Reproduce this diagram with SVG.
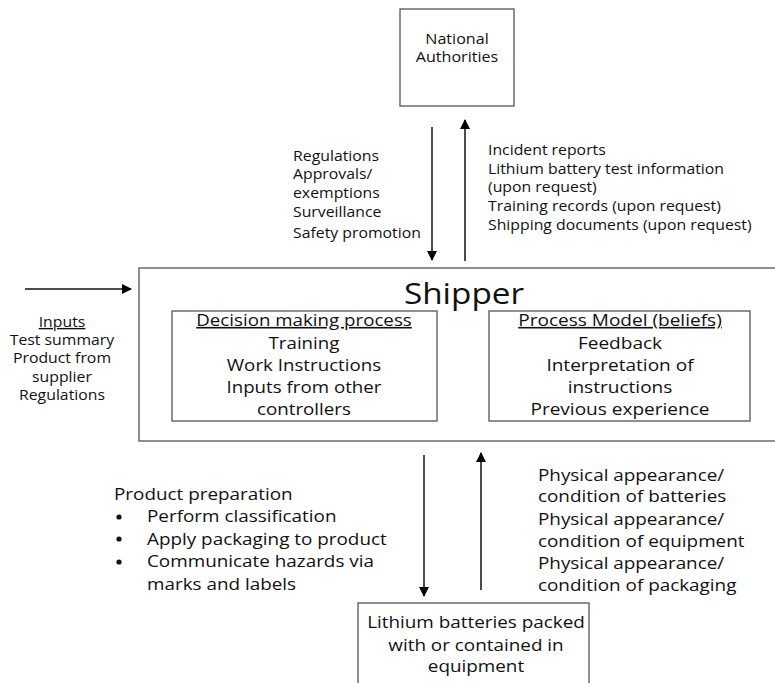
<svg xmlns="http://www.w3.org/2000/svg" width="775" height="683" viewBox="0 0 775 683">
  <defs>
    <marker id="arrow" viewBox="0 0 10 10" refX="9" refY="5" markerWidth="10" markerHeight="10" markerUnits="userSpaceOnUse" orient="auto">
      <path d="M0,0 L10,5 L0,10 Z" fill="#000"/>
    </marker>
    <style>
      text { font-family: "Open Sans", "Liberation Sans", sans-serif; fill: #111; }
      .box { fill: #fff; stroke: #555; stroke-width: 1.3; }
      .flow { stroke: #111; stroke-width: 1.5; fill: none; marker-end: url(#arrow); }
      .s14 { font-size: 14px; }
      .s16 { font-size: 16px; }
      .mid { text-anchor: middle; }
      .u { text-decoration: underline; }
    </style>
  </defs>
  <rect width="775" height="683" fill="#fff"/>

  <!-- Text blocks are widened horizontally about their anchor x to get the wide humanist look -->

  <!-- National Authorities -->
  <g id="national-authorities">
    <rect class="box" x="400" y="9" width="114" height="97"/>
    <g transform="translate(457 0) scale(1.15 1) translate(-457 0)">
      <text class="s14 mid" x="457" y="44">National</text>
      <text class="s14 mid" x="457" y="62">Authorities</text>
    </g>
  </g>

  <!-- Shipper (controller) -->
  <g id="shipper">
    <rect class="box" x="139" y="268" width="640" height="173"/>
    <text class="mid" x="464" y="304" font-size="30" transform="translate(464 0) scale(1.11 1) translate(-464 0)">Shipper</text>
  </g>

  <g id="decision-making">
    <rect class="box" x="172" y="311" width="265" height="110"/>
    <g transform="translate(304 0) scale(1.17 1) translate(-304 0)">
      <text class="s16 mid" x="304" y="326"><tspan class="u">Decision making process</tspan></text>
      <text class="s16 mid" x="304" y="349">Training</text>
      <text class="s16 mid" x="304" y="371">Work Instructions</text>
      <text class="s16 mid" x="304" y="393">Inputs from other</text>
      <text class="s16 mid" x="304" y="415">controllers</text>
    </g>
  </g>

  <g id="process-model">
    <rect class="box" x="489" y="311" width="261" height="110"/>
    <g transform="translate(620 0) scale(1.19 1) translate(-620 0)">
      <text class="s16 mid" x="620" y="326"><tspan class="u">Process Model (beliefs)</tspan></text>
      <text class="s16 mid" x="620" y="349">Feedback</text>
      <text class="s16 mid" x="620" y="371">Interpretation of</text>
      <text class="s16 mid" x="620" y="393">instructions</text>
      <text class="s16 mid" x="620" y="415">Previous experience</text>
    </g>
  </g>

  <!-- Controlled process -->
  <g id="lithium-batteries">
    <rect class="box" x="358" y="603" width="231" height="90"/>
    <g transform="translate(476 0) scale(1.18 1) translate(-476 0)">
      <text class="s16 mid" x="476" y="628">Lithium batteries packed</text>
      <text class="s16 mid" x="476" y="651">with or contained in</text>
      <text class="s16 mid" x="476" y="672">equipment</text>
    </g>
  </g>

  <!-- Connectors -->
  <g id="connectors">
    <line class="flow" x1="432" y1="127" x2="432" y2="260"/>
    <line class="flow" x1="465" y1="261" x2="465" y2="120"/>
    <line class="flow" x1="25" y1="289" x2="131" y2="289"/>
    <line class="flow" x1="424" y1="455" x2="424" y2="596"/>
    <line class="flow" x1="481" y1="590" x2="481" y2="453"/>
  </g>

  <!-- Connector labels -->
  <g id="labels-down-top" class="s14" transform="translate(293 0) scale(1.13 1) translate(-293 0)">
    <text x="293" y="161">Regulations</text>
    <text x="293" y="179">Approvals/</text>
    <text x="293" y="198">exemptions</text>
    <text x="293" y="217">Surveillance</text>
    <text x="293" y="238">Safety promotion</text>
  </g>

  <g id="labels-up-top" class="s14" transform="translate(488 0) scale(1.13 1) translate(-488 0)">
    <text x="488" y="155">Incident reports</text>
    <text x="488" y="174">Lithium battery test information</text>
    <text x="488" y="192">(upon request)</text>
    <text x="488" y="211">Training records (upon request)</text>
    <text x="488" y="230">Shipping documents (upon request)</text>
  </g>

  <g id="labels-inputs" class="s14 mid" transform="translate(62 0) scale(1.13 1) translate(-62 0)">
    <text x="62" y="327"><tspan class="u">Inputs</tspan></text>
    <text x="62" y="345">Test summary</text>
    <text x="62" y="363">Product from</text>
    <text x="62" y="382">supplier</text>
    <text x="62" y="400">Regulations</text>
  </g>

  <g id="labels-down-bottom" class="s16">
    <text x="114" y="500" transform="translate(114 0) scale(1.18 1) translate(-114 0)">Product preparation</text>
    <circle cx="119" cy="517" r="2.6" fill="#111"/>
    <circle cx="119" cy="539" r="2.6" fill="#111"/>
    <circle cx="119" cy="562" r="2.6" fill="#111"/>
    <g transform="translate(147 0) scale(1.18 1) translate(-147 0)">
      <text x="147" y="522">Perform classification</text>
      <text x="147" y="545">Apply packaging to product</text>
      <text x="147" y="567">Communicate hazards via</text>
      <text x="147" y="590">marks and labels</text>
    </g>
  </g>

  <g id="labels-up-bottom" class="s16" transform="translate(538 0) scale(1.18 1) translate(-538 0)">
    <text x="538" y="481">Physical appearance/</text>
    <text x="538" y="502">condition of batteries</text>
    <text x="538" y="525">Physical appearance/</text>
    <text x="538" y="547">condition of equipment</text>
    <text x="538" y="569">Physical appearance/</text>
    <text x="538" y="591">condition of packaging</text>
  </g>
</svg>
